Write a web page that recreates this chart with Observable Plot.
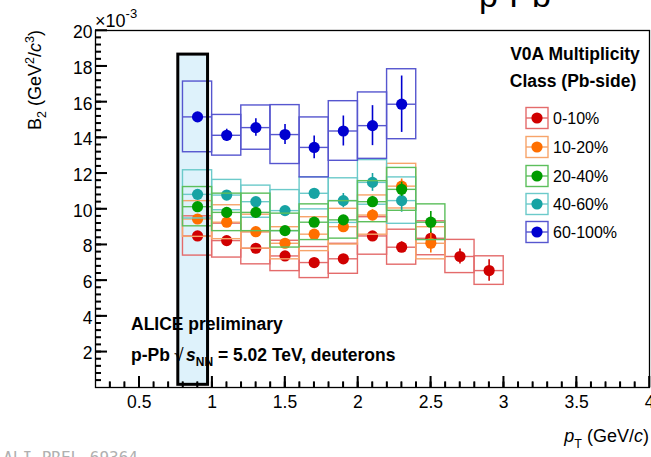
<!DOCTYPE html>
<html><head><meta charset="utf-8">
<script src="https://cdn.jsdelivr.net/npm/d3@7"></script>
<script src="https://cdn.jsdelivr.net/npm/@observablehq/plot@0.6"></script>
<style>
body{margin:0;background:#fff;}
#wrap{position:relative;width:651px;height:457px;overflow:hidden;}
</style></head><body><div id="wrap"></div>
<script>
// ---- data (B2 in units of 1e-3 GeV^2/c^3) ----
const pT = [0.9, 1.1, 1.3, 1.5, 1.7, 1.9, 2.1, 2.3, 2.5, 2.7, 2.9];
const pTBinHalfWidth = 0.1;
const classes = ["0-10%", "10-20%", "20-40%", "40-60%", "60-100%"];
const pointColors = ["#d00000", "#ff6f00", "#009c00", "#17a3a3", "#0000d0"];
const boxColors = ["#e46b6b", "#f7a46a", "#5cbf5c", "#6ccaca", "#5656cf"];

const b2_0_10   = [8.49, 8.23, 7.80, 7.37, 7.00, 7.21, 8.49, 7.86, 8.36, 7.34, 6.55];
const stat_0_10 = [0.10, 0.10, 0.12, 0.14, 0.16, 0.20, 0.25, 0.30, 0.35, 0.42, 0.60];
const sys_0_10  = [1.10, 0.95, 0.90, 0.85, 0.87, 0.84, 1.05, 0.98, 0.95, 0.93, 0.80];

const b2_10_20   = [9.44, 9.26, 8.73, 8.08, 8.59, 9.01, 9.66, 11.28, 8.08];
const stat_10_20 = [0.10, 0.12, 0.14, 0.17, 0.20, 0.25, 0.30, 0.40, 0.55];
const sys_10_20  = [1.00, 0.95, 0.95, 0.90, 0.95, 1.00, 1.10, 1.25, 0.90];

const b2_20_40   = [10.13, 9.81, 9.81, 8.79, 9.26, 9.39, 10.41, 11.10, 9.26];
const stat_20_40 = [0.10, 0.12, 0.14, 0.17, 0.20, 0.25, 0.30, 0.40, 0.60];
const sys_20_40  = [1.10, 1.05, 1.05, 0.95, 1.00, 1.05, 1.15, 1.20, 1.00];

const b2_40_60   = [10.82, 10.78, 10.41, 9.91, 10.88, 10.47, 11.49, 10.47];
const stat_40_60 = [0.10, 0.12, 0.14, 0.17, 0.20, 0.40, 0.50, 0.65];
const sys_40_60  = [1.35, 0.85, 0.90, 1.15, 0.90, 1.25, 1.25, 1.30];

const b2_60_100   = [15.16, 14.13, 14.56, 14.17, 13.45, 14.37, 14.67, 15.87];
const stat_60_100 = [0.25, 0.34, 0.49, 0.56, 0.64, 0.84, 1.12, 1.58];
const sys_60_100  = [1.98, 1.14, 1.24, 1.65, 1.68, 1.67, 1.86, 1.96];

const xTicksMajor = [0.5, 1, 1.5, 2, 2.5, 3, 3.5, 4];
const yTicksMajor = [2, 4, 6, 8, 10, 12, 14, 16, 18, 20];
const highlight = [{x1: 0.768, x2: 0.972, y1: 0.15, y2: 18.65}];

// ---- build tables ----
const seriesVals = [b2_0_10, b2_10_20, b2_20_40, b2_40_60, b2_60_100];
const seriesStat = [stat_0_10, stat_10_20, stat_20_40, stat_40_60, stat_60_100];
const seriesSys  = [sys_0_10, sys_10_20, sys_20_40, sys_40_60, sys_60_100];
const tables = seriesVals.map((vals, k) => vals.map((v, j) => ({
  cls: classes[k], pT: pT[j], v, stat: seriesStat[k][j], sys: seriesSys[k][j]
})));
const drawOrder = [0, 1, 3, 2, 4];

const xMinor = d3.range(3, 40).map(d => d / 10);
const yMinor = d3.range(1, 50).map(d => +(d * 0.4).toFixed(1));

const font = '"Liberation Sans", Arial, Helvetica, sans-serif';
const W = 651, H = 457, mL = 95, mR = 2, mT = 30, mB = 70;
const frameW = W - mL - mR, frameH = H - mT - mB;
const xDom = [0.2, 4], yDom = [0, 20];

const chart = Plot.plot({
  width: W, height: H,
  marginLeft: mL, marginRight: mR, marginTop: mT, marginBottom: mB,
  x: {domain: xDom, label: null},
  y: {domain: yDom, label: null},
  style: {fontFamily: font, fontSize: "17.5px"},
  marks: [
    Plot.rect(highlight, {x1: "x1", x2: "x2", y1: "y1", y2: "y2", fill: "#def2fb"}),
    ...drawOrder.flatMap(k => {
      const d = tables[k];
      return [
        Plot.rect(d, {x1: r => r.pT - pTBinHalfWidth, x2: r => r.pT + pTBinHalfWidth,
          y1: r => r.v - r.sys, y2: r => r.v + r.sys, fill: "none", stroke: boxColors[k], strokeWidth: 1.4}),
        Plot.ruleY(d, {y: "v", x1: r => r.pT - pTBinHalfWidth, x2: r => r.pT + pTBinHalfWidth,
          stroke: boxColors[k], strokeWidth: 1.4}),
        Plot.ruleX(d, {x: "pT", y1: r => r.v - r.stat, y2: r => r.v + r.stat,
          stroke: pointColors[k], strokeWidth: 1.6}),
        Plot.dot(d, {x: "pT", y: "v", r: 5.6, fill: pointColors[k], stroke: "none"})
      ];
    }),
    // inward ROOT-style ticks (frame-anchored tick marks, shortened by insets)
    Plot.tickY(yMinor, {y: d => d, insetRight: frameW - 6, stroke: "black", strokeWidth: 1.5}),
    Plot.tickY(yTicksMajor, {y: d => d, insetRight: frameW - 12, stroke: "black", strokeWidth: 1.5}),
    Plot.tickX(xMinor, {x: d => d, insetTop: frameH - 5.5, stroke: "black", strokeWidth: 1.5}),
    Plot.tickX(xTicksMajor, {x: d => d, insetTop: frameH - 11, stroke: "black", strokeWidth: 1.5}),
    Plot.axisY(yTicksMajor, {anchor: "left", tickSize: 0, tickPadding: 3, dy: 2, label: null}),
    Plot.axisX(xTicksMajor, {anchor: "bottom", tickSize: 0, tickPadding: 8, label: null, tickFormat: d => String(d)}),
    Plot.frame({stroke: "black", strokeWidth: 1.3}),
    Plot.rect(highlight, {x1: "x1", x2: "x2", y1: "y1", y2: "y2", fill: "none", stroke: "black", strokeWidth: 3})
  ]
});
document.getElementById("wrap").appendChild(chart);

const svg = d3.select(chart);

// ---- text annotations (drawn under the highlight outline) ----
const g = svg.insert("g", ":scope > :last-child").attr("font-family", font).attr("fill", "black")
  .attr("text-anchor", "start");

g.append("text").attr("x", 131).attr("y", 329.5).attr("font-size", 17.5).attr("font-weight", "bold")
  .text("ALICE preliminary");
const t2 = g.append("text").attr("x", 131).attr("y", 361).attr("font-size", 17.5).attr("font-weight", "bold");
t2.append("tspan").text("p-Pb ");
t2.append("tspan").attr("x", 174).attr("font-weight", "normal").text("√");
t2.append("tspan").attr("x", 186).attr("font-style", "italic").text("s");
t2.append("tspan").attr("dy", 5).attr("font-size", 12).text("NN");
t2.append("tspan").attr("dy", -5).text(" = 5.02 TeV, deuterons");

// exponent
const ex = g.append("text").attr("x", 95).attr("y", 27).attr("font-size", 18);
ex.append("tspan").text("×10");
ex.append("tspan").attr("dy", -9).attr("font-size", 13).text("-3");

// y label
const yl = g.append("text").attr("transform", "translate(41,30) rotate(-90)").attr("text-anchor", "end").attr("font-size", 18);
yl.append("tspan").text("B");
yl.append("tspan").attr("dy", 5).attr("font-size", 12.5).text("2");
yl.append("tspan").attr("dy", -5).text(" (GeV");
yl.append("tspan").attr("dy", -7).attr("font-size", 12.5).text("2");
yl.append("tspan").attr("dy", 7).text("/");
yl.append("tspan").attr("font-style", "italic").text("c");
yl.append("tspan").attr("dy", -7).attr("font-size", 12.5).text("3");
yl.append("tspan").attr("dy", 7).text(")");

// x label
const xl = g.append("text").attr("x", 649).attr("y", 442).attr("text-anchor", "end").attr("font-size", 18);
xl.append("tspan").attr("font-style", "italic").text("p");
xl.append("tspan").attr("dy", 6).attr("font-size", 12.5).text("T");
xl.append("tspan").attr("dy", -6).text(" (GeV/");
xl.append("tspan").attr("font-style", "italic").text("c");
xl.append("tspan").text(")");

// watermark and clipped header
g.append("text").attr("x", 138).attr("y", 463).attr("text-anchor", "end").attr("font-size", 16)
  .attr("font-family", '"DejaVu Sans Mono", monospace').attr("fill", "#b0b0b0").text("ALI-PREL-69364");
g.append("text").attr("x", 515).attr("y", 7).attr("text-anchor", "middle").attr("font-size", 34)
  .text("p-Pb");

// legend
const lg = g.append("g");
lg.append("text").attr("x", 575).attr("y", 59.5).attr("text-anchor", "middle").attr("font-size", 17.5)
  .attr("font-weight", "bold").text("V0A Multiplicity");
lg.append("text").attr("x", 573).attr("y", 87).attr("text-anchor", "middle").attr("font-size", 17.5)
  .attr("font-weight", "bold").text("Class (Pb-side)");
const legendY = [118, 147, 176, 204, 232];
classes.forEach((c, k) => {
  const cy = legendY[k];
  lg.append("rect").attr("x", 526).attr("y", cy - 10.5).attr("width", 22).attr("height", 21)
    .attr("fill", "none").attr("stroke", boxColors[k]).attr("stroke-width", 1.4);
  lg.append("line").attr("x1", 526).attr("x2", 548).attr("y1", cy).attr("y2", cy)
    .attr("stroke", boxColors[k]).attr("stroke-width", 1.4);
  lg.append("circle").attr("cx", 537).attr("cy", cy).attr("r", 5.6).attr("fill", pointColors[k]);
  lg.append("text").attr("x", 553).attr("y", cy + 5.8).attr("font-size", 16).text(c);
});

// extra copy of the inward ticks on top of everything, placed through Plot's own scales
const sx = chart.scale("x"), sy = chart.scale("y");
const tg = svg.append("g").attr("stroke", "black").attr("stroke-width", 1.5);
const x0 = sx.apply(xDom[0]), y0 = sy.apply(yDom[0]);
yMinor.forEach(v => tg.append("line").attr("x1", x0).attr("x2", x0 + 6).attr("y1", sy.apply(v)).attr("y2", sy.apply(v)));
yTicksMajor.forEach(v => tg.append("line").attr("x1", x0).attr("x2", x0 + 12).attr("y1", sy.apply(v)).attr("y2", sy.apply(v)));
xMinor.forEach(v => tg.append("line").attr("x1", sx.apply(v)).attr("x2", sx.apply(v)).attr("y1", y0).attr("y2", y0 - 5.5));
xTicksMajor.forEach(v => tg.append("line").attr("x1", sx.apply(v)).attr("x2", sx.apply(v)).attr("y1", y0).attr("y2", y0 - 11));
</script>
</body></html>
